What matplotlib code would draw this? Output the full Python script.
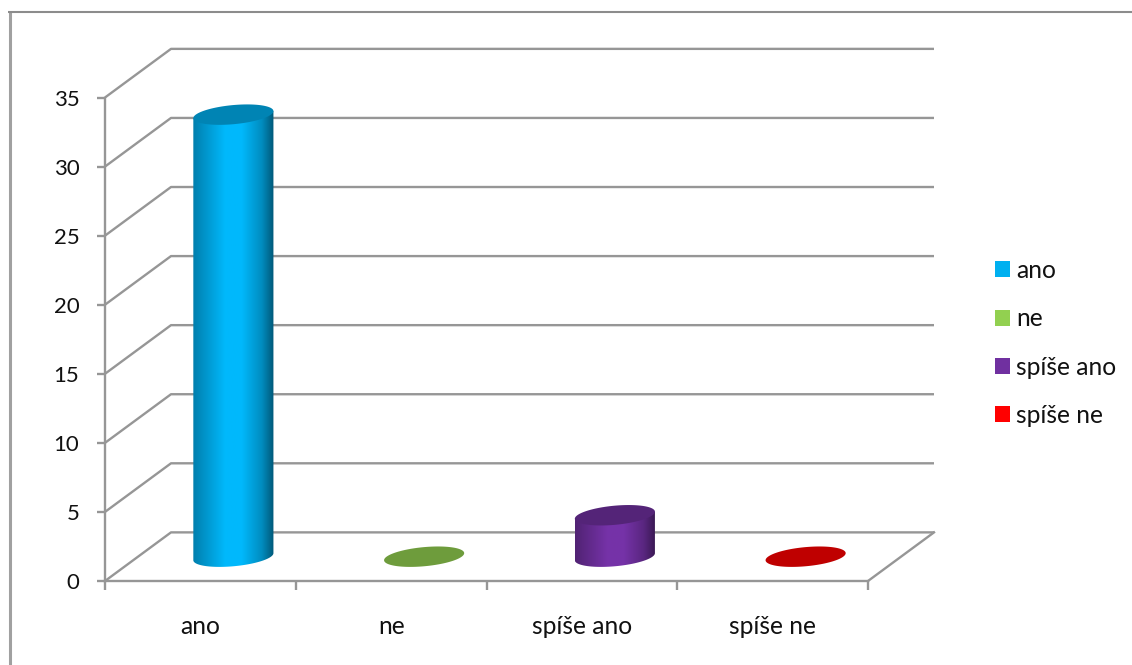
import numpy as np
import matplotlib.pyplot as plt
from matplotlib.colors import LinearSegmentedColormap, to_rgb
from matplotlib.lines import Line2D
from matplotlib.patches import Patch, Polygon

plt.rcParams['font.family'] = ['Lato', 'DejaVu Sans']

categories = ['ano', 'ne', 'spíše ano', 'spíše ne']
values = [32, 0, 3, 0]
colors = ['#00B0F0', '#92D050', '#7030A0', '#FF0000']
y_ticks = [0, 5, 10, 15, 20, 25, 30, 35]

GRID = '#969696'
TEXT = '#111111'
# depth of the 3D box, in data units
DX = 0.346
DY = 3.52
# cylinder radius along the x axis and along the depth axis
RX = 0.197
RD = 0.21

W, H = 1132, 665
fig = plt.figure(figsize=(W / 100, H / 100), dpi=100, facecolor='white')
ax = fig.add_axes([105 / W, (H - 581) / H, (868 - 105) / W, (581 - 97.5) / H])
ax.patch.set_visible(False)


def ellipse(cx, y):
    # circle lying in the floor plane, sheared into the oblique view
    t = np.linspace(0, 2 * np.pi, 361)
    return cx + RX * np.cos(t) + RD * DX * np.sin(t), y + RD * DY * np.sin(t)


def shade(color, k):
    return tuple(min(c * k, 1) for c in to_rgb(color))


# back wall and side wall gridlines
for v in y_ticks:
    ax.plot([0, DX, len(categories) + DX], [v, v + DY, v + DY], color=GRID, lw=1.7,
            clip_on=False, solid_capstyle='butt', zorder=1)
# right edge of the floor
ax.plot([len(categories), len(categories) + DX], [0, DY], color=GRID, lw=1.7, clip_on=False, zorder=1)

for i, (v, c) in enumerate(zip(values, colors)):
    cx = i + 0.5 + DX / 2
    base_y = DY / 2
    top_y = v + DY / 2
    ex, ey = ellipse(cx, top_y)
    if v > 0:
        bx, by = ellipse(cx, base_y)
        left = np.argmin(bx)
        right = np.argmax(bx)
        # front half of the base going left to right, then back over the top
        idx = np.arange(left, left + 361) % 361
        idx = idx[: (right - left) % 361 + 1]
        body = np.column_stack([bx[idx], by[idx]])
        body = np.vstack([body, [bx[right], ey[right]], [bx[left], ey[left]]])
        cmap = LinearSegmentedColormap.from_list('side', [
            (0, shade(c, 0.72)), (0.4, shade(c, 1.05)), (0.6, shade(c, 1.05)),
            (0.85, shade(c, 0.8)), (1, shade(c, 0.5))])
        grad = np.linspace(0, 1, 256).reshape(1, -1)
        im = ax.imshow(grad, cmap=cmap, aspect='auto', zorder=3,
                       extent=[bx[left], bx[right], by.min(), ey.max()])
        im.set_clip_path(Polygon(body, transform=ax.transData))
    ax.fill(ex, ey, color=shade(c, 0.75), lw=0, zorder=4, clip_on=False)

ax.set_xlim(0, len(categories))
ax.set_ylim(0, 35)
ax.set_yticks(y_ticks)
ax.set_xticks(range(len(categories) + 1))
ax.set_xticklabels([])
ax.set_xticks(np.arange(len(categories)) + 0.5, categories, minor=True)
ax.tick_params(axis='y', length=6, width=1.7, color=GRID, labelsize=16, labelcolor=TEXT, pad=12.5)
ax.tick_params(axis='x', which='major', length=6.5, width=1.7, color=GRID)
ax.tick_params(axis='x', which='minor', length=0, labelsize=17.7, labelcolor=TEXT, pad=24.5)
for s in ['top', 'right']:
    ax.spines[s].set_visible(False)
for s in ['left', 'bottom']:
    ax.spines[s].set_color(GRID)
    ax.spines[s].set_linewidth(1.7)

handles = [Patch(facecolor=c, edgecolor='none') for c in colors]
fig.legend(handles, categories, loc='center left', bbox_to_anchor=(995 / W, (H - 343) / H),
           frameon=False, fontsize=17.7, labelcolor=TEXT, handlelength=0.61, handleheight=0.61,
           handletextpad=0.24, labelspacing=1.03, borderpad=0, borderaxespad=0)

# outer chart border, only the left and top edges fall inside the image
fig.add_artist(Line2D([9.5 / W, 9.5 / W], [0, (H - 11) / H], color='#a0a0a0', lw=2.2,
                      solid_capstyle='butt'))
fig.add_artist(Line2D([8 / W, 1], [(H - 12) / H, (H - 12) / H], color='#8c8c8c', lw=1.5,
                      solid_capstyle='butt'))

fig.savefig('out.png', dpi=100)
